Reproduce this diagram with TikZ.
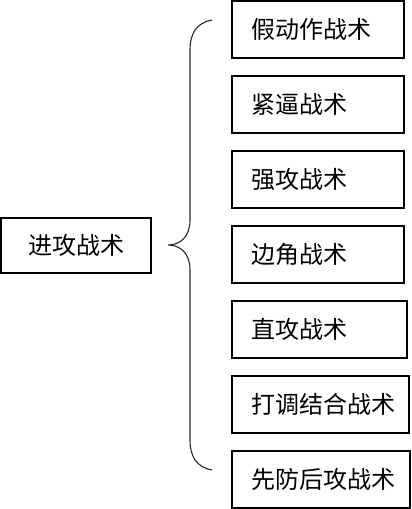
\documentclass[tikz,border=0pt]{standalone}
\usepackage{fontspec}
\newfontfamily\cjk{Noto Sans CJK SC}
\usepackage{tikz}
\usetikzlibrary{positioning}
\tikzset{
  root/.style  ={rectangle,draw=black,line width=1.6pt,fill=white,outer sep=0pt,
                 minimum width=150pt,minimum height=55pt,
                 font=\cjk\fontsize{24}{28}\selectfont},
  tactic/.style={rectangle,draw=black,line width=1.6pt,fill=white,outer sep=0pt,
                 minimum height=57pt,inner xsep=19pt,align=left,
                 font=\cjk\fontsize{24}{28}\selectfont},
  nextbox/.style={below=18pt of #1.south west,anchor=north west},
  brace/.style ={line width=1.1pt,draw=black!85},
}
\begin{document}
\begin{tikzpicture}[x=1pt,y=1pt]
  \useasboundingbox (0,0) rectangle (412,509);
  \node[root] (attack) at (76,263.5) {进攻战术};
  \node[tactic,text width=134pt,anchor=north west] (feint) at (232,508) {假动作战术};
  \node[tactic,text width=134pt,nextbox=feint] (press) {紧逼战术};
  \node[tactic,text width=134pt,nextbox=press] (force) {强攻战术};
  \node[tactic,text width=134pt,nextbox=force] (corner) {边角战术};
  \node[tactic,text width=137pt,nextbox=corner] (direct) {直攻战术};
  \node[tactic,text width=139pt,nextbox=direct] (combo) {打调结合战术};
  \node[tactic,text width=140pt,nextbox=combo] (counter) {先防后攻战术};
  % brace
  \coordinate (top) at (212,489);
  \coordinate (tip) at (168,264);
  \coordinate (bot) at (212,39);
  \draw[brace] (top) .. controls (196,486) and (190,475) .. (190,459)
    -- (190,289) .. controls (190,272) and (180,264) .. (tip)
    .. controls (180,264) and (190,256) .. (190,239)
    -- (190,69) .. controls (190,53) and (196,42) .. (bot);
\end{tikzpicture}
\end{document}
